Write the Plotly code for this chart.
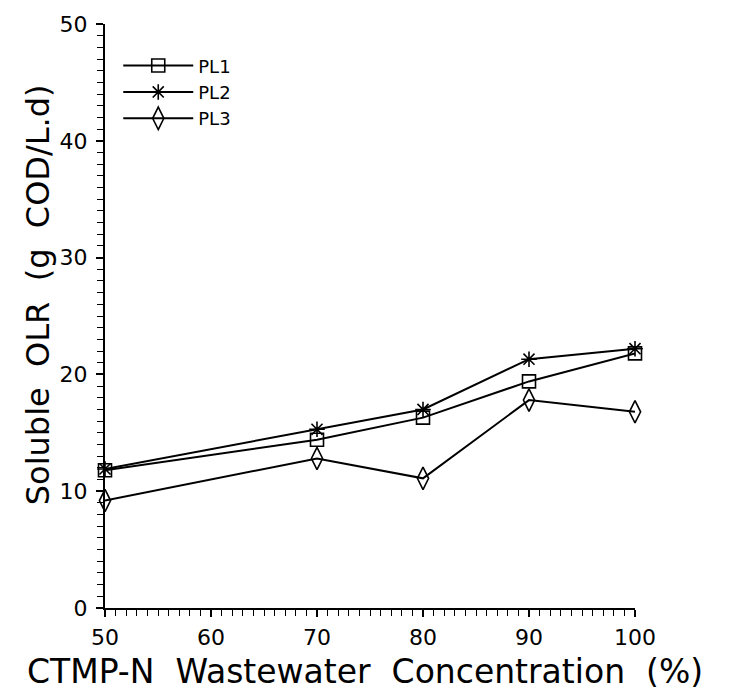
import plotly.graph_objects as go

concentration = [50, 70, 80, 90, 100]
pl1 = [11.8, 14.4, 16.3, 19.4, 21.8]
pl2 = [11.9, 15.3, 17.0, 21.3, 22.2]
pl3 = [9.2, 12.8, 11.1, 17.8, 16.8]
series_names = ["PL1", "PL2", "PL3"]
x_ticks = [50, 60, 70, 80, 90, 100]
y_ticks = [0, 10, 20, 30, 40, 50]
x_title = "CTMP-N Wastewater Concentration (%)"
y_title = "Soluble OLR (g COD/L.d)"

FONT = "DejaVu Sans"
symbols = ["square-open", "asterisk-open", "diamond-tall-open"]
sizes = [13, 13, 16]

fig = go.Figure()
for name, vals, sym, sz in zip(series_names, [pl1, pl2, pl3], symbols, sizes):
    fig.add_trace(go.Scatter(
        x=concentration, y=vals, name=name, mode="lines+markers",
        line=dict(color="black", width=2), cliponaxis=False,
        marker=dict(symbol=sym, size=sz, color="black",
                    line=dict(color="black", width=1.6)),
    ))

axis_common = dict(
    showline=True, linecolor="black", linewidth=2,
    ticks="outside", ticklen=7, tickwidth=1.5, tickcolor="black",
    showgrid=False, zeroline=False,
    tickfont=dict(family=FONT, size=22, color="black"),
    minor=dict(ticks="outside", ticklen=6, tickwidth=1.3, tickcolor="black", dtick=1),
)

fig.update_xaxes(range=[50, 100], tickvals=x_ticks, ticklabelstandoff=2, **axis_common)
fig.update_yaxes(range=[0, 50], tickvals=y_ticks, ticklabelstandoff=4, **axis_common)

fig.update_layout(
    width=730, height=698,
    margin=dict(l=105, r=95, t=22, b=90),
    paper_bgcolor="white", plot_bgcolor="white",
    showlegend=True,
    legend=dict(x=0.025, y=0.96, xanchor="left", yanchor="top",
                bgcolor="rgba(0,0,0,0)", borderwidth=0,
                font=dict(family=FONT, size=18, color="black"),
                tracegroupgap=0, itemwidth=70),
    annotations=[
        dict(text=x_title.replace(" ", "\u00a0 "), xref="paper", yref="paper",
             x=0.49, y=-0.108, xanchor="center", yanchor="middle", showarrow=False,
             font=dict(family=FONT, size=33, color="black")),
        dict(text=y_title.replace(" ", "\u00a0 "), xref="paper", yref="paper",
             x=-0.126, y=0.536, xanchor="center", yanchor="middle", showarrow=False,
             textangle=-90, font=dict(family=FONT, size=32, color="black")),
    ],
)

fig.write_html("out.html")
